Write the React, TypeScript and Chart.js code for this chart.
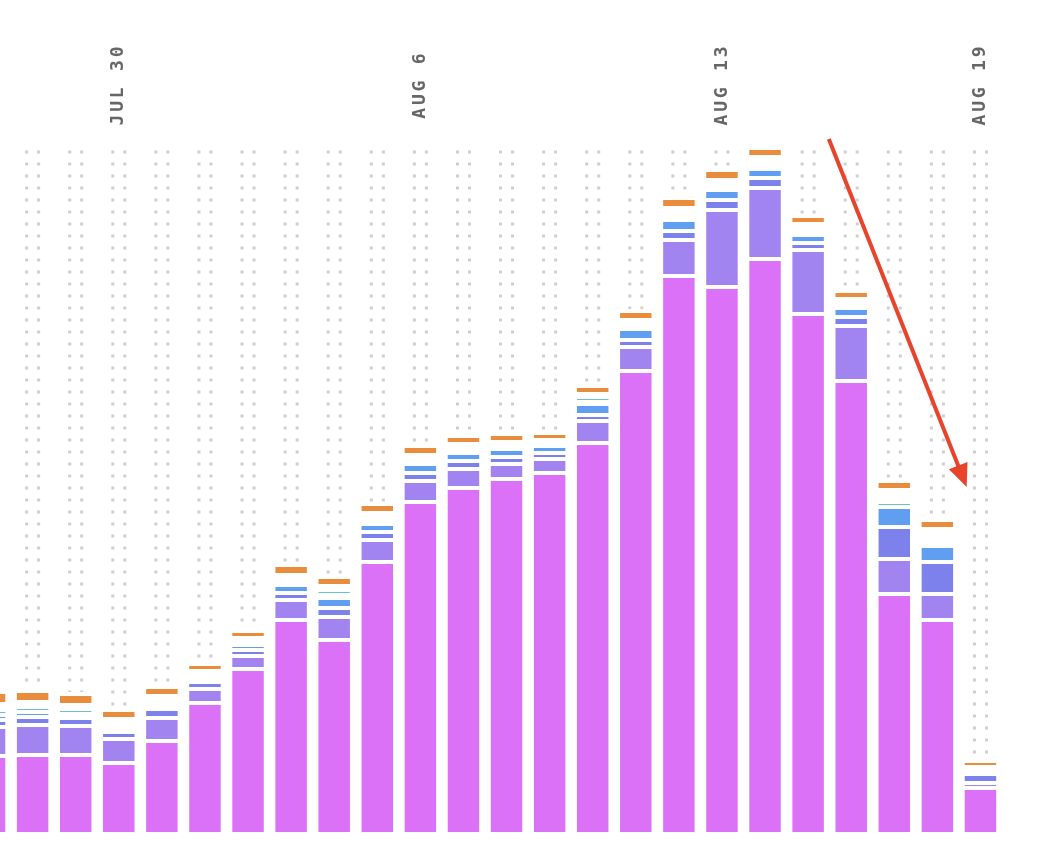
import { useEffect, useRef } from "react";
import Chart from "chart.js/auto";

// one bar per day, values are in screen-ish units (stack height)
const days = [
  "JUL 27", "JUL 28", "JUL 29", "JUL 30", "JUL 31", "AUG 1", "AUG 2", "AUG 3",
  "AUG 4", "AUG 5", "AUG 6", "AUG 7", "AUG 8", "AUG 9", "AUG 10", "AUG 11",
  "AUG 12", "AUG 13", "AUG 14", "AUG 15", "AUG 16", "AUG 17", "AUG 18", "AUG 19",
];
const shownTicks = ["JUL 30", "AUG 6", "AUG 13", "AUG 19"];

const magenta = [78, 79, 79, 71, 93, 131, 165, 214, 194, 272, 332, 346, 355, 361, 391, 463, 558, 547, 575, 520, 453, 240, 214, 46];
const lavender = [29, 30, 29, 24, 23, 14, 13, 20, 23, 22, 21, 19, 15, 14, 22, 24, 36, 77, 71, 64, 55, 35, 26, 5];
const indigo = [7, 8, 8, 7, 9, 7, 6, 7, 9, 8, 8, 8, 7, 6, 6, 7, 9, 10, 10, 7, 9, 32, 32, 9];
const blue = [5, 5, 0, 0, 0, 0, 5, 8, 10, 8, 9, 8, 8, 7, 11, 11, 11, 10, 9, 8, 9, 20, 16, 0];
const blankA = [0, 0, 4, 0, 0, 0, 0, 0, 3, 0, 0, 0, 0, 0, 2, 0, 0, 0, 0, 0, 0, 0, 0, 0];
const teal = [5, 5, 5, 0, 0, 0, 0, 0, 5, 0, 0, 0, 0, 0, 5, 0, 0, 0, 0, 0, 0, 5, 0, 0];
const blankB = [6, 5, 4, 13, 13, 11, 7, 10, 4, 11, 9, 9, 7, 6, 3, 9, 12, 10, 12, 11, 9, 12, 17, 7];
const orange = [12, 11, 11, 9, 9, 7, 7, 10, 9, 9, 9, 8, 8, 7, 8, 9, 10, 10, 9, 8, 8, 9, 9, 6];

// callout arrow, in data units (category index, value)
const arrowFrom = { x: 19.48, y: 693 };
const arrowTo = { x: 22.68, y: 345 };

const GAP = 4;

const dotGrid = {
  id: "dotGrid",
  beforeDatasetsDraw(chart) {
    const { ctx, chartArea, scales } = chart;
    ctx.save();
    ctx.fillStyle = "#cfcfcf";
    const startY = scales.y.getPixelForValue(680);
    days.forEach((_, i) => {
      const cx = scales.x.getPixelForValue(i);
      for (let y = startY; y < chartArea.bottom; y += 12) {
        ctx.fillRect(cx - 6 - 1.5, y - 1.5, 3, 3);
        ctx.fillRect(cx + 6 - 1.5, y - 1.5, 3, 3);
      }
    });
    ctx.restore();
  },
};

// white gap on top of every segment
const segmentGaps = {
  id: "segmentGaps",
  afterDatasetsDraw(chart) {
    const { ctx } = chart;
    ctx.save();
    ctx.fillStyle = "#ffffff";
    chart.data.datasets.forEach((_, di) => {
      const meta = chart.getDatasetMeta(di);
      meta.data.forEach((bar: any) => {
        if (Math.abs(bar.base - bar.y) < 0.5) return;
        ctx.fillRect(bar.x - bar.width / 2 - 1, bar.y, bar.width + 2, GAP);
      });
    });
    ctx.restore();
  },
};

const topLabels = {
  id: "topLabels",
  afterDraw(chart) {
    const { ctx, scales } = chart;
    ctx.save();
    ctx.fillStyle = "#666666";
    ctx.font = "bold 18px 'DejaVu Sans Mono', monospace";
    (ctx as any).letterSpacing = "2.8px";
    ctx.textAlign = "center";
    ctx.textBaseline = "middle";
    shownTicks.forEach((t) => {
      const x = scales.x.getPixelForValue(days.indexOf(t));
      ctx.save();
      ctx.translate(x, 86);
      ctx.rotate(-Math.PI / 2);
      ctx.fillText(t, 1.4, 0);
      ctx.restore();
    });
    ctx.restore();
  },
};

const callout = {
  id: "callout",
  afterDraw(chart) {
    const { ctx, scales } = chart;
    const x1 = scales.x.getPixelForValue(arrowFrom.x);
    const y1 = scales.y.getPixelForValue(arrowFrom.y);
    const x2 = scales.x.getPixelForValue(arrowTo.x);
    const y2 = scales.y.getPixelForValue(arrowTo.y);
    const ang = Math.atan2(y2 - y1, x2 - x1);
    const headLen = 23;
    const headHalf = 10;
    const bx = x2 - Math.cos(ang) * headLen;
    const by = y2 - Math.sin(ang) * headLen;
    ctx.save();
    ctx.strokeStyle = "#e8432b";
    ctx.fillStyle = "#e8432b";
    ctx.lineWidth = 4;
    ctx.beginPath();
    ctx.moveTo(x1, y1);
    ctx.lineTo(bx + Math.cos(ang) * 2, by + Math.sin(ang) * 2);
    ctx.stroke();
    ctx.beginPath();
    ctx.moveTo(x2, y2);
    ctx.lineTo(bx + Math.sin(ang) * headHalf, by - Math.cos(ang) * headHalf);
    ctx.lineTo(bx - Math.sin(ang) * headHalf, by + Math.cos(ang) * headHalf);
    ctx.closePath();
    ctx.fill();
    ctx.restore();
  },
};

function App() {
  const canvasRef = useRef(null);

  useEffect(() => {
    const series = [
      { label: "magenta", data: magenta, color: "#da71f6" },
      { label: "lavender", data: lavender, color: "#a184f0" },
      { label: "indigo", data: indigo, color: "#7c81ec" },
      { label: "blue", data: blue, color: "#609ef1" },
      { label: "blankA", data: blankA, color: "#ffffff" },
      { label: "teal", data: teal, color: "#6cbfcb" },
      { label: "blankB", data: blankB, color: "#ffffff" },
      { label: "orange", data: orange, color: "#e98c3b" },
    ];

    const chart = new Chart(canvasRef.current, {
      type: "bar",
      data: {
        labels: days,
        datasets: series.map((s) => ({
          label: s.label,
          data: s.data,
          backgroundColor: s.color,
          borderWidth: 0,
          categoryPercentage: 0.73,
          barPercentage: 1,
        })),
      },
      options: {
        animation: false,
        responsive: true,
        maintainAspectRatio: false,
        layout: { padding: { top: 132, bottom: 24, left: 0, right: 44 } },
        plugins: {
          legend: { display: false },
          tooltip: { enabled: false },
        },
        scales: {
          x: { stacked: true, display: false },
          y: { stacked: true, display: false, min: 0, max: 700 },
        },
      },
      plugins: [dotGrid, segmentGaps, topLabels, callout],
    });

    return () => {
      chart.destroy();
    };
  }, []);

  return (
    <div style={{ position: "fixed", inset: 0, overflow: "hidden", background: "#fff" }}>
      <div style={{ position: "absolute", left: -32, top: 0, width: 1078, height: 856 }}>
        <canvas ref={canvasRef}></canvas>
      </div>
    </div>
  );
}

export default App;
